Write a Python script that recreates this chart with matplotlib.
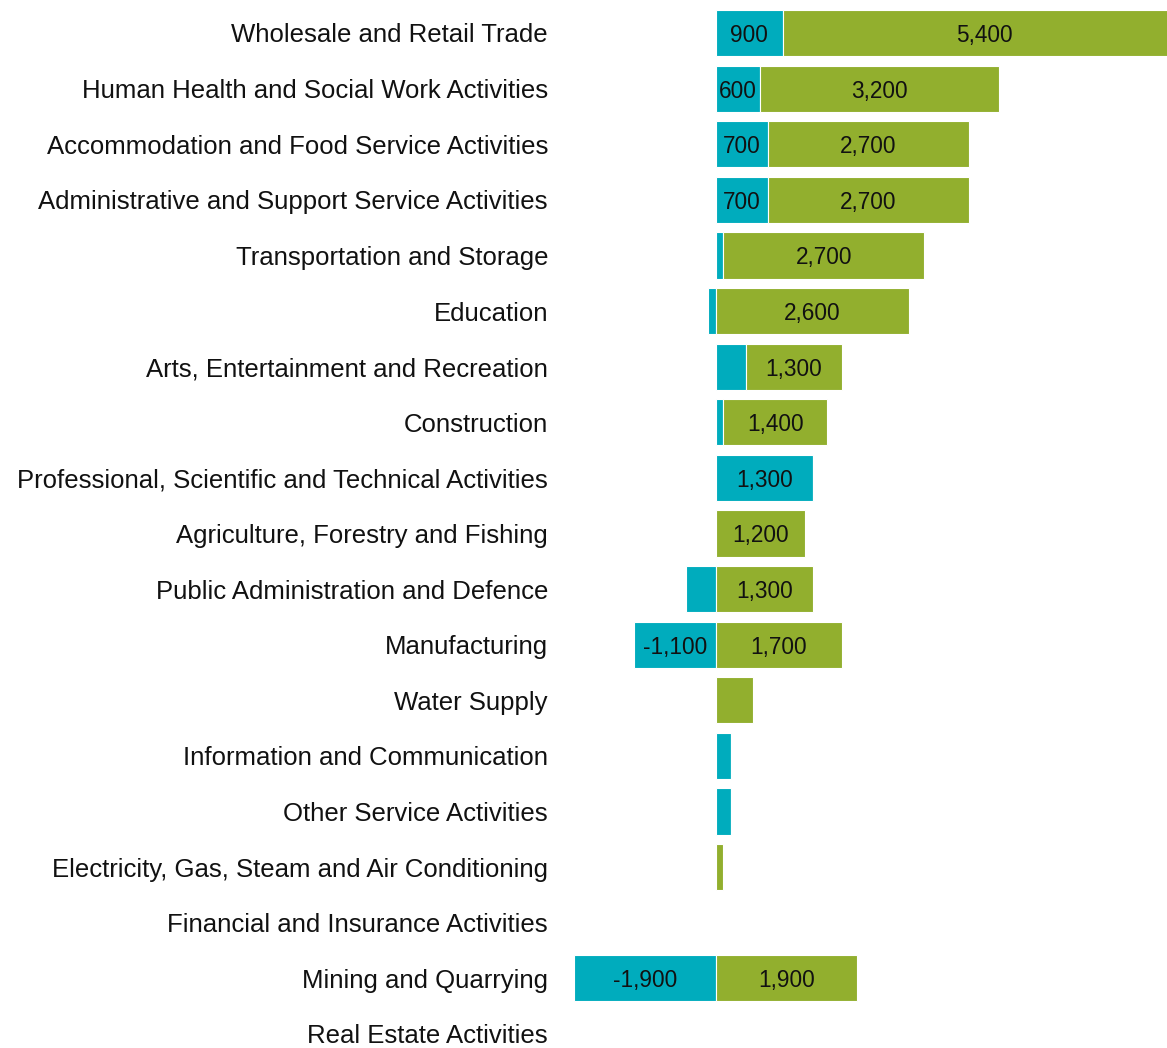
import matplotlib
matplotlib.use("Agg")
import matplotlib.pyplot as plt
import numpy as np

categories = [
    "Wholesale and Retail Trade",
    "Human Health and Social Work Activities",
    "Accommodation and Food Service Activities",
    "Administrative and Support Service Activities",
    "Transportation and Storage",
    "Education",
    "Arts, Entertainment and Recreation",
    "Construction",
    "Professional, Scientific and Technical Activities",
    "Agriculture, Forestry and Fishing",
    "Public Administration and Defence",
    "Manufacturing",
    "Water Supply",
    "Information and Communication",
    "Other Service Activities",
    "Electricity, Gas, Steam and Air Conditioning",
    "Financial and Insurance Activities",
    "Mining and Quarrying",
    "Real Estate Activities",
]
teal_values = [900, 600, 700, 700, 100, -100, 400, 100, 1300, 0, -400, -1100, 0, 200, 200, 0, 0, -1900, 0]
green_values = [5400, 3200, 2700, 2700, 2700, 2600, 1300, 1400, 0, 1200, 1300, 1700, 500, 0, 0, 100, 0, 1900, 0]

TEAL = "#00ACBD"
GREEN = "#92AF2E"
LABEL_MIN = 600

plt.rcParams["font.family"] = ["Liberation Sans", "DejaVu Sans"]

W, H = 1167, 1048
fig = plt.figure(figsize=(W / 100, H / 100), dpi=100)
ax_left, ax_right = 560, 1167
ax = fig.add_axes([ax_left / W, 0, (ax_right - ax_left) / W, 1])

y = np.arange(len(categories))
teal = np.array(teal_values, dtype=float)
green = np.array(green_values, dtype=float)
green_left = np.where(teal > 0, teal, 0)

h = 0.83
ax.barh(y, teal, height=h, color=TEAL, edgecolor="white", linewidth=0.8)
ax.barh(y, green, left=green_left, height=h, color=GREEN, edgecolor="white", linewidth=0.8)

for i in range(len(categories)):
    if abs(teal[i]) >= LABEL_MIN:
        ax.text(teal[i] / 2, y[i], f"{int(teal[i]):,}", ha="center", va="center_baseline",
                fontsize=16.3, color="#111111")
    if abs(green[i]) >= LABEL_MIN:
        ax.text(green_left[i] + green[i] / 2, y[i], f"{int(green[i]):,}", ha="center",
                va="center_baseline", fontsize=16.3, color="#111111")

zero_px = 715.7
scale = 0.0745
ax.set_xlim((ax_left - zero_px) / scale, (ax_right - zero_px) / scale)
row_h = 55.61
top_idx = -33 / row_h
bot_idx = (H - 33) / row_h
ax.set_ylim(bot_idx, top_idx)

ax.set_yticks(y)
ax.set_yticklabels(categories, fontsize=18.5, color="#111111")
ax.tick_params(axis="y", length=0, pad=(ax_left - 548) * 0.72)
ax.set_xticks([])
for s in ax.spines.values():
    s.set_visible(False)

fig.savefig("out.png", dpi=100)
